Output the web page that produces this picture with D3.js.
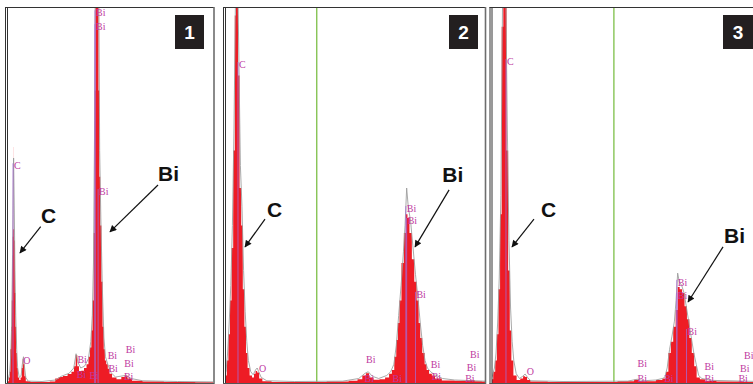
<!DOCTYPE html>
<html>
<head>
<meta charset="utf-8">
<script src="https://cdn.jsdelivr.net/npm/d3@7"></script>
<style>
  html, body { margin: 0; padding: 0; background: #fff; }
  svg { display: block; }
</style>
</head>
<body>
<svg id="chart" width="753" height="384"></svg>
<script>
// EDS spectra: [energy keV, intensity % of full scale]
const red1 = [[0.12,0.5],[0.16,1.5],[0.17,3],[0.19,9],[0.21,15],[0.225,22],[0.235,34],[0.245,39],[0.262,41],[0.265,63],[0.268,41],[0.29,38],[0.305,24],[0.32,15],[0.34,8],[0.36,4],[0.39,1.5],[0.43,0.8],[0.46,1.5],[0.49,4],[0.51,6.5],[0.53,5],[0.56,1.8],[0.6,0.5],[0.8,0.3],[1.1,0.3],[1.3,0.4],[1.38,1.2],[1.48,1.6],[1.6,1.9],[1.72,2.4],[1.8,3],[1.85,4.5],[1.89,7.5],[1.93,4.5],[1.98,3.2],[2.05,3.3],[2.12,4],[2.18,5],[2.22,7],[2.26,9.5],[2.29,14],[2.32,22],[2.35,40],[2.37,78],[2.39,130],[2.42,145],[2.45,115],[2.47,78],[2.49,55],[2.52,42],[2.55,27],[2.58,15],[2.61,9],[2.64,6],[2.68,5],[2.72,3.8],[2.77,2.5],[2.85,1.5],[3.0,1],[3.1,1.6],[3.17,2],[3.25,1.2],[3.4,0.6],[3.8,0.4],[4.5,0.3],[5.42,0.2]];
const gray1 = [[0.12,0.8],[0.16,2.5],[0.19,7],[0.21,14],[0.23,28],[0.25,45],[0.265,60],[0.28,48],[0.30,30],[0.32,18],[0.345,9],[0.37,4],[0.41,1.5],[0.46,2],[0.49,5],[0.52,7],[0.55,4],[0.58,1.5],[0.64,0.5],[1.0,0.4],[1.35,0.8],[1.5,1.8],[1.7,2.6],[1.82,4],[1.88,7.8],[1.93,5.5],[2.0,4],[2.1,4.5],[2.2,6.5],[2.26,11],[2.3,18],[2.33,32],[2.36,70],[2.39,140],[2.43,150],[2.46,120],[2.49,62],[2.52,44],[2.56,25],[2.6,12],[2.64,7],[2.7,5],[2.78,2.8],[2.9,1.6],[3.15,2],[3.3,1.2],[3.6,0.6],[4.5,0.4],[5.42,0.3]];

const red2 = [[0.14,2],[0.16,6],[0.18,13],[0.20,22],[0.22,36],[0.24,62],[0.26,98],[0.27,118],[0.28,112],[0.30,82],[0.32,52],[0.34,42],[0.36,25],[0.38,15],[0.40,8],[0.42,4],[0.45,2],[0.48,1.5],[0.50,2.5],[0.52,3.2],[0.54,2.8],[0.57,1.2],[0.62,0.5],[0.8,0.3],[1.2,0.3],[1.6,0.4],[1.75,0.6],[1.82,1],[1.87,2],[1.91,2.6],[1.95,1.5],[2.02,0.9],[2.10,1],[2.16,1.5],[2.20,2.5],[2.23,3.5],[2.26,7],[2.28,11.5],[2.30,16],[2.32,22],[2.35,32],[2.38,40],[2.40,45],[2.42,44],[2.45,40],[2.48,33],[2.51,27],[2.54,22],[2.56,16],[2.58,12],[2.61,8],[2.64,5],[2.66,3.5],[2.70,2.5],[2.73,2],[2.78,1.2],[2.9,0.7],[3.1,0.6],[3.2,0.8],[3.3,0.5],[3.38,0.4]];
const gray2 = [[0.14,3],[0.16,8],[0.18,16],[0.20,26],[0.22,42],[0.24,68],[0.26,105],[0.28,118],[0.30,88],[0.32,58],[0.34,47],[0.36,30],[0.38,19],[0.40,11],[0.42,6],[0.45,3],[0.48,2.2],[0.51,3.5],[0.53,4],[0.55,3],[0.58,1.5],[0.65,0.6],[1.0,0.4],[1.6,0.5],[1.8,1.2],[1.88,2.6],[1.92,3],[1.97,1.8],[2.05,1.2],[2.15,2],[2.20,3],[2.24,5],[2.27,10],[2.30,18],[2.33,26],[2.36,35],[2.38,42],[2.40,52],[2.42,47],[2.45,43],[2.48,36],[2.51,29],[2.54,23],[2.57,16],[2.60,10],[2.63,6],[2.66,4],[2.70,3],[2.75,2.2],[2.85,1.2],[3.0,0.8],[3.38,0.5]];

const red3 = [[0.12,1],[0.15,3],[0.17,6],[0.19,13],[0.21,25],[0.23,45],[0.25,95],[0.27,130],[0.29,110],[0.31,62],[0.33,30],[0.35,14],[0.37,6],[0.40,2],[0.45,0.8],[0.49,1.2],[0.52,1.8],[0.54,1.6],[0.57,0.8],[0.62,0.4],[1.0,0.3],[1.5,0.3],[1.85,0.5],[1.91,0.9],[1.97,0.5],[2.10,0.5],[2.20,0.8],[2.26,1.2],[2.29,3],[2.32,8],[2.35,11],[2.38,15],[2.41,19.5],[2.43,25.6],[2.46,25],[2.49,24],[2.52,20.5],[2.55,17],[2.58,12],[2.61,8],[2.64,4.5],[2.67,1.5],[2.72,1],[2.80,0.6],[3.0,0.4],[3.44,0.3]];
const gray3 = [[0.12,1.5],[0.15,4],[0.17,8],[0.19,16],[0.21,28],[0.23,50],[0.25,100],[0.27,125],[0.29,105],[0.31,68],[0.33,38],[0.35,20],[0.37,11],[0.39,6],[0.42,2.5],[0.46,1.2],[0.50,1.8],[0.53,2.4],[0.56,1.5],[0.60,0.6],[1.0,0.4],[1.8,0.5],[1.92,1],[2.0,0.6],[2.15,0.8],[2.23,1.2],[2.26,1.5],[2.29,4],[2.32,9],[2.35,12.5],[2.38,16.5],[2.40,22],[2.42,29.3],[2.44,27],[2.47,26],[2.50,24],[2.53,20],[2.56,16],[2.59,12],[2.62,8],[2.65,5],[2.68,2],[2.72,1.2],[2.85,0.7],[3.44,0.4]];

// Element line markers: [energy keV, label height %, element]
const marks1 = [[0.25,57,"C"],[0.49,5.2,"O"],[2.37,97.8,"Bi"],[2.37,94.1,"Bi"],[2.45,50.1,"Bi"],[1.89,5.3,"Bi"],[1.87,1.3,"Bi"],[2.2,1,"Bi"],[2.67,6.3,"Bi"],[2.69,3,"Bi"],[3.14,7.9,"Bi"],[3.10,4.3,"Bi"],[3.09,0.8,"Bi"]];
const marks2 = [[0.29,84,"C"],[0.54,2.9,"O"],[2.39,45.6,"Bi"],[2.40,42.4,"Bi"],[2.51,22.7,"Bi"],[1.88,5.3,"Bi"],[1.86,0.3,"Bi"],[2.21,0.3,"Bi"],[2.69,4,"Bi"],[2.70,0.8,"Bi"],[3.18,6.8,"Bi"],[3.14,3.2,"Bi"],[3.12,0.2,"Bi"]];
const marks3 = [[0.293,84.8,"C"],[0.537,2.1,"O"],[2.41,25.9,"Bi"],[2.41,22.4,"Bi"],[2.53,12.8,"Bi"],[1.91,4.3,"Bi"],[1.91,0.3,"Bi"],[2.24,0.3,"Bi"],[2.74,3.5,"Bi"],[2.74,0.3,"Bi"],[3.23,6.4,"Bi"],[3.18,2.9,"Bi"],[3.16,0.2,"Bi"]];

// Peak call-outs: label, text anchor, arrow tail, arrow tip (all [keV, %])
const callouts1 = [["C",[0.97,42.7],[0.965,41.7],[0.43,34.7]],["Bi",[4.0,53.9],[3.998,52.8],[2.757,40.3]]];
const callouts2 = [["C",[0.653,44.3],[0.628,43.7],[0.378,36.3]],["Bi",[2.845,53.6],[2.931,51.5],[2.505,36.3]]];
const callouts3 = [["C",[0.727,44.3],[0.640,43.7],[0.368,36.3]],["Bi",[2.995,37.3],[2.982,36.3],[2.549,21.6]]];

const panelNumbers = ["1", "2", "3"];
const energyDomains = [[0.12, 5.42], [0.14, 3.38], [0.12, 3.44]];
const cursorEnergies = [null, 1.275, 1.63];

const panels = [
  { frame: [5, 214],    plot: [8, 213],   badge: [175, 29], red: red1, gray: gray1, marks: marks1, callouts: callouts1 },
  { frame: [223, 485.5], plot: [226, 485], badge: [449, 29], red: red2, gray: gray2, marks: marks2, callouts: callouts2 },
  { frame: [489.5, 790], plot: [492, 760], badge: [723, 30], red: red3, gray: gray3, marks: marks3, callouts: callouts3 }
];

const svg = d3.select("#chart");
const yTop = 8, yBase = 383;
const y = d3.scaleLinear().domain([0, 100]).range([yBase, yTop]);

const defs = svg.append("defs");
defs.append("marker")
  .attr("id", "arrowhead")
  .attr("viewBox", "0 0 10 10")
  .attr("refX", 9).attr("refY", 5)
  .attr("markerWidth", 9).attr("markerHeight", 7)
  .attr("markerUnits", "userSpaceOnUse")
  .attr("orient", "auto")
  .append("path").attr("d", "M0,0 L10,5 L0,10 Z").attr("fill", "#111");

panels.forEach((p, i) => {
  const x = d3.scaleLinear().domain(energyDomains[i]).range(p.plot);
  const g = svg.append("g");

  const clipId = "clip" + i;
  defs.append("clipPath").attr("id", clipId)
    .append("rect")
    .attr("x", p.plot[0]).attr("y", yTop)
    .attr("width", p.plot[1] - p.plot[0]).attr("height", yBase - yTop + 1);

  const plot = g.append("g").attr("clip-path", `url(#${clipId})`);

  // green energy cursor
  if (cursorEnergies[i] !== null) {
    plot.append("line")
      .attr("x1", x(cursorEnergies[i])).attr("x2", x(cursorEnergies[i]))
      .attr("y1", yTop).attr("y2", yBase)
      .attr("stroke", "#86c455").attr("stroke-width", 1.4);
  }

  // filled spectrum (channel histogram)
  const area = d3.area()
    .x(d => x(d[0])).y0(y(0)).y1(d => y(d[1]))
    .curve(d3.curveStep);
  plot.append("path").datum(p.red)
    .attr("d", area)
    .attr("fill", "#ee1c25");

  // overlay spectrum outline
  const line = d3.line().x(d => x(d[0])).y(d => y(d[1])).curve(d3.curveLinear);
  plot.append("path").datum(p.gray)
    .attr("d", line)
    .attr("fill", "none")
    .attr("stroke", "#9a9a9a")
    .attr("stroke-width", 1)
    .attr("opacity", 0.85);

  // element markers: line rises to the label baseline
  plot.selectAll(".mk").data(p.marks.filter(d => d[1] > 10)).enter().append("line")
    .attr("x1", d => x(d[0])).attr("x2", d => x(d[0]))
    .attr("y1", y(0)).attr("y2", d => y(d[1]) - 6)
    .attr("stroke", "#a56ad2").attr("stroke-width", 1).attr("opacity", 0.8);
  plot.selectAll(".ml").data(p.marks).enter().append("text")
    .attr("x", d => x(d[0]) + 1)
    .attr("y", d => y(d[1]))
    .attr("font-family", "'Liberation Serif', 'DejaVu Serif', serif")
    .attr("font-size", 10)
    .attr("fill", "#c0399f")
    .text(d => d[2]);

  // frame: double left rule, top, right, base
  const f = p.frame;
  g.append("line").attr("x1", f[0] + 0.5).attr("x2", f[0] + 0.5).attr("y1", 7).attr("y2", 384)
    .attr("stroke", "#333").attr("stroke-width", 1);
  g.append("line").attr("x1", f[0] + 2.5).attr("x2", f[0] + 2.5).attr("y1", 7).attr("y2", 384)
    .attr("stroke", "#333").attr("stroke-width", 1);
  g.append("line").attr("x1", f[0]).attr("x2", f[1]).attr("y1", 7.5).attr("y2", 7.5)
    .attr("stroke", "#333").attr("stroke-width", 1.2);
  g.append("line").attr("x1", f[1]).attr("x2", f[1]).attr("y1", 7).attr("y2", 384)
    .attr("stroke", "#6d6d6d").attr("stroke-width", 1.6);
  g.append("line").attr("x1", f[0]).attr("x2", f[1]).attr("y1", 383.5).attr("y2", 383.5)
    .attr("stroke", "#555").attr("stroke-width", 1);

  // panel number badge
  g.append("rect")
    .attr("x", p.badge[0]).attr("y", 15)
    .attr("width", p.badge[1]).attr("height", 34)
    .attr("fill", "#231f20");
  g.append("text")
    .attr("x", p.badge[0] + p.badge[1] / 2).attr("y", 39)
    .attr("text-anchor", "middle")
    .attr("font-family", "'Liberation Sans', Arial, sans-serif")
    .attr("font-weight", "bold").attr("font-size", 19)
    .attr("fill", "#fff")
    .text(panelNumbers[i]);

  // peak call-outs
  p.callouts.forEach(c => {
    g.append("line")
      .attr("x1", x(c[2][0])).attr("y1", y(c[2][1]))
      .attr("x2", x(c[3][0])).attr("y2", y(c[3][1]))
      .attr("stroke", "#111").attr("stroke-width", 1.2)
      .attr("marker-end", "url(#arrowhead)");
    g.append("text")
      .attr("x", x(c[1][0])).attr("y", y(c[1][1]))
      .attr("font-family", "'Liberation Sans', Arial, sans-serif")
      .attr("font-weight", "bold").attr("font-size", 21)
      .attr("fill", "#111")
      .text(c[0]);
  });
});
</script>
</body>
</html>
